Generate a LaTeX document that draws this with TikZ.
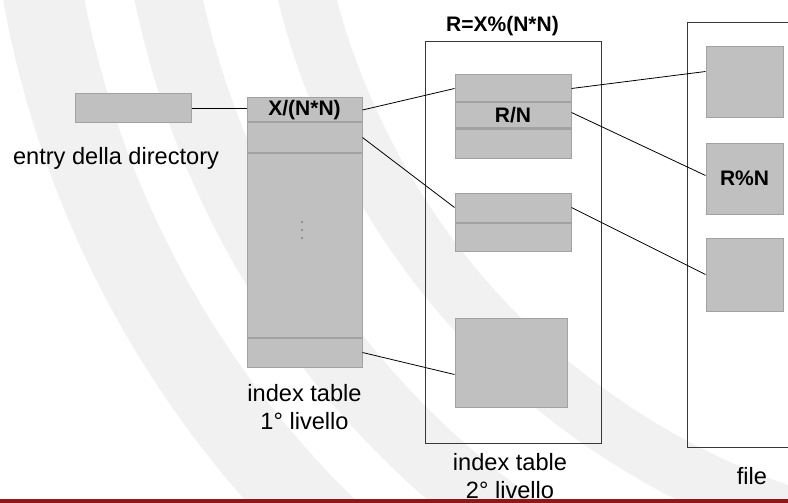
\documentclass[tikz,border=0pt]{standalone}
\usepackage{fontspec}
\setmainfont{Liberation Sans}
\usetikzlibrary{positioning}
\definecolor{cellgray}{HTML}{C0C0C0}
\definecolor{edgegray}{HTML}{A2A2A2}
\definecolor{bandgray}{HTML}{F1F1F1}
\definecolor{barred}{HTML}{8A1A1A}
\tikzset{
  cell/.style={draw=edgegray, fill=cellgray, line width=1pt, inner sep=0pt, minimum width=#1},
  cell/.default=115pt,
  outline/.style={draw=black!78, line width=1pt, inner sep=0pt},
  lbl/.style={font=\fontsize{23.6}{28}\selectfont, align=center},
  boldtxt/.style={font=\fontsize{21}{25}\selectfont\bfseries},
  link/.style={draw=black, line width=0.8pt}
}
\begin{document}
\begin{tikzpicture}[x=1pt, y=-1pt]
    \useasboundingbox (0,0) rectangle (788,503);
    \fill[white] (0,0) rectangle (788,503);

    % background bands
    \begin{scope}
        \clip (0,0) rectangle (788,503);
        \foreach \ri/\ro in {953/1033, 837/904, 707/764} {
            \fill[bandgray, even odd rule] (1020,-183) circle[radius=\ro pt] circle[radius=\ri pt];
        }
    \end{scope}
    \fill[barred] (0,499) rectangle (788,503);

    % directory entry
    \node[cell=116pt, minimum height=29pt] (entry) at (133,108.5) {};
    \node[lbl] (entrylbl) at (116,158) {entry della directory};

    % index table, first level
    \node[cell, minimum height=24pt, boldtxt] (t1a) at (304.5,110) {X/(N*N)};
    \node[cell, minimum height=29pt, below=0pt of t1a] (t1b) {};
    \node[cell, minimum height=184pt, below=0pt of t1b] (t1c) {};
    \node[cell, minimum height=29pt, below=0pt of t1c] (t1d) {};
    \foreach \y in {222,230,238} {
        \fill[gray] (302,\y) circle[radius=1.2pt];
    }
    \node[lbl] (t1lbl) at (304.5,407) {index table\\1° livello};

    % index table, second level
    \node[outline, minimum width=176pt, minimum height=401pt] (t2) at (513,242.5) {};
    \node[boldtxt] (t2title) at (502.5,26) {R=X\%(N*N)};
    \node[cell=116pt, minimum height=27pt] (i1a) at (513,88.5) {};
    \node[cell=116pt, minimum height=25pt, below=0pt of i1a, boldtxt] (i1b) {R/N};
    \node[cell=116pt, minimum height=29pt, below=0pt of i1b] (i1c) {};
    \node[cell=116pt, minimum height=29pt] (i2a) at (513,207.5) {};
    \node[cell=116pt, minimum height=28pt, below=0pt of i2a] (i2b) {};
    \node[cell=112pt, minimum height=89pt] (big) at (511,362.5) {};
    \node[lbl] (t2lbl) at (510,476) {index table\\2° livello};

    % file blocks
    \node[outline, minimum width=140pt, minimum height=425pt, anchor=north west] (file) at (687,22) {};
    \node[cell=77pt, minimum height=71pt] (b1) at (744.5,82.5) {};
    \node[cell=77pt, minimum height=71pt, boldtxt] (b2) at (744.5,178.5) {R\%N};
    \node[cell=77pt, minimum height=73pt] (b3) at (744.5,274.5) {};
    \node[lbl] (filelbl) at (752,476) {file};

    % pointers
    \draw[link] (entry.east) -- (entry.east -| t1a.west);
    \draw[link] (t1a.east) -- (i1a.west);
    \draw[link] (t1b.east) -- (i2a.west);
    \draw[link] (t1d.east) -- ([yshift=-12pt]big.west);
    \draw[link] (i1a.east) -- ([yshift=11pt]b1.west);
    \draw[link] ([yshift=3pt]i1b.east) -- ([yshift=3pt]b2.west);
    \draw[link] (i2a.east) -- (b3.west);
\end{tikzpicture}
\end{document}
